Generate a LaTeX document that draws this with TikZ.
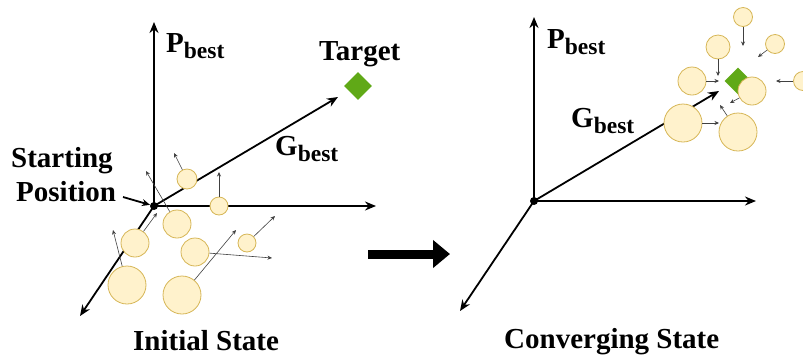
\documentclass[tikz,border=0pt]{standalone}
\usepackage{fontspec}
\setmainfont{Liberation Serif}
\usetikzlibrary{arrows.meta,shapes.geometric}
\definecolor{pfill}{HTML}{FFF2CC}
\definecolor{pdraw}{HTML}{D6B656}
\definecolor{tgreen}{HTML}{60A917}
\begin{document}
\begin{tikzpicture}[x=1pt,y=-1pt,
 axis/.style={line width=1.8pt,-{Stealth[length=11pt,width=9pt]}},
 small/.style={line width=0.6pt,black!75,-{Stealth[length=4.5pt,width=4pt]}},
 particle/.style={circle,fill=pfill,draw=pdraw,line width=0.8pt,inner sep=0pt},
 target/.style={diamond,fill=tgreen,inner sep=0pt,minimum size=28pt},
 lbl/.style={font=\fontsize{29}{32}\selectfont\bfseries,inner sep=0pt,anchor=base west},
 dot/.style={circle,fill=black,inner sep=0pt,minimum size=8pt}]
\useasboundingbox (0,0) rectangle (803,360);
% ---------------- left panel ----------------
\coordinate (o1) at (154,206);
\coordinate (y1) at (154,22);
\coordinate (x1) at (376,206);
\coordinate (z1) at (80,316);
\coordinate (g1) at (338,97);
\draw[axis] (o1) -- (y1);
\draw[axis] (o1) -- (x1);
\draw[axis] (o1) -- (z1);
\draw[axis] (o1) -- (g1);
\node[target] (t1) at (358,86) {};
\node[particle,minimum size=20pt] (c1) at (187,179) {};
\node[particle,minimum size=18pt] (c2) at (219,206) {};
\node[particle,minimum size=28pt] (c3) at (177,224) {};
\node[particle,minimum size=28pt] (c4) at (135,243) {};
\node[particle,minimum size=28pt] (c5) at (195,252) {};
\node[particle,minimum size=18pt] (c6) at (247,243) {};
\node[particle,minimum size=38pt] (c7) at (127,285) {};
\node[particle,minimum size=38pt] (c8) at (182,295) {};
\coordinate (a1) at (174,153);
\coordinate (a2) at (219,172);
\coordinate (a3) at (146,171);
\coordinate (a4) at (157,213);
\coordinate (a5) at (272,258);
\coordinate (a6) at (275,216);
\coordinate (a7) at (113,230);
\coordinate (a8) at (236,230);
\draw[small] (c1) -- (a1);
\draw[small] (c2) -- (a2);
\draw[small] (c3) -- (a3);
\draw[small] (c4) -- (a4);
\draw[small] (c5) -- (a5);
\draw[small] (c6) -- (a6);
\draw[small] (c7) -- (a7);
\draw[small] (c8) -- (a8);
\node[dot] (d1) at (o1) {};
\node[lbl] (pb1) at (166,52) {P\raisebox{-6pt}{\fontsize{23.5}{26}\selectfont best}};
\node[lbl] (gb1) at (275,155) {G\raisebox{-6pt}{\fontsize{23.5}{26}\selectfont best}};
\node[lbl] (tg1) at (319,60) {Target};
\node[lbl] (st1) at (11,167) {Starting};
\node[lbl] (st2) at (16,201) {Position};
\coordinate (sa) at (123,197);
\draw[line width=1.8pt,-{Stealth[length=8pt,width=7pt]}] (sa) -- (d1);
\node[lbl] (is1) at (133,350) {Initial State};
% ---------------- big arrow ----------------
\coordinate (ba1) at (368,254);
\coordinate (ba2) at (450,254);
\draw[line width=9pt,-{Triangle[length=17pt,width=27pt]}] (ba1) -- (ba2);
% ---------------- right panel ----------------
\coordinate (o2) at (534,201);
\coordinate (y2) at (534,17);
\coordinate (x2) at (756,201);
\coordinate (z2) at (460,311);
\coordinate (g2) at (719,91);
\draw[axis] (o2) -- (y2);
\draw[axis] (o2) -- (x2);
\draw[axis] (o2) -- (z2);
\draw[axis] (o2) -- (g2);
\node[target,minimum size=27pt] (t2) at (738,81) {};
\node[particle,minimum size=19pt] (ra) at (743,17) {};
\node[particle,minimum size=24pt] (rb) at (718,47) {};
\node[particle,minimum size=19pt] (rc) at (775,44) {};
\node[particle,minimum size=28pt] (rd) at (692,81) {};
\node[particle,minimum size=19pt] (re) at (803,81) {};
\node[particle,minimum size=28pt] (rf) at (752,91) {};
\node[particle,minimum size=38pt] (rg) at (683,123) {};
\node[particle,minimum size=38pt] (rh) at (738,132) {};
\coordinate (ea) at (743,46);
\coordinate (eb) at (718,76);
\coordinate (ec) at (758,57);
\coordinate (ed) at (719,81);
\coordinate (ee) at (776,81);
\coordinate (ef) at (730,103);
\coordinate (eg) at (719,123);
\coordinate (eh) at (720,105);
\draw[small] (ra) -- (ea);
\draw[small] (rb) -- (eb);
\draw[small] (rc) -- (ec);
\draw[small] (rd) -- (ed);
\draw[small] (re) -- (ee);
\draw[small] (rf) -- (ef);
\draw[small] (rg) -- (eg);
\draw[small] (rh) -- (eh);
\node[dot] (d2) at (o2) {};
\node[lbl] (pb2) at (547,48) {P\raisebox{-6pt}{\fontsize{23.5}{26}\selectfont best}};
\node[lbl] (gb2) at (571,127) {G\raisebox{-6pt}{\fontsize{23.5}{26}\selectfont best}};
\node[lbl] (cs2) at (504,348) {Converging State};
\end{tikzpicture}
\end{document}
